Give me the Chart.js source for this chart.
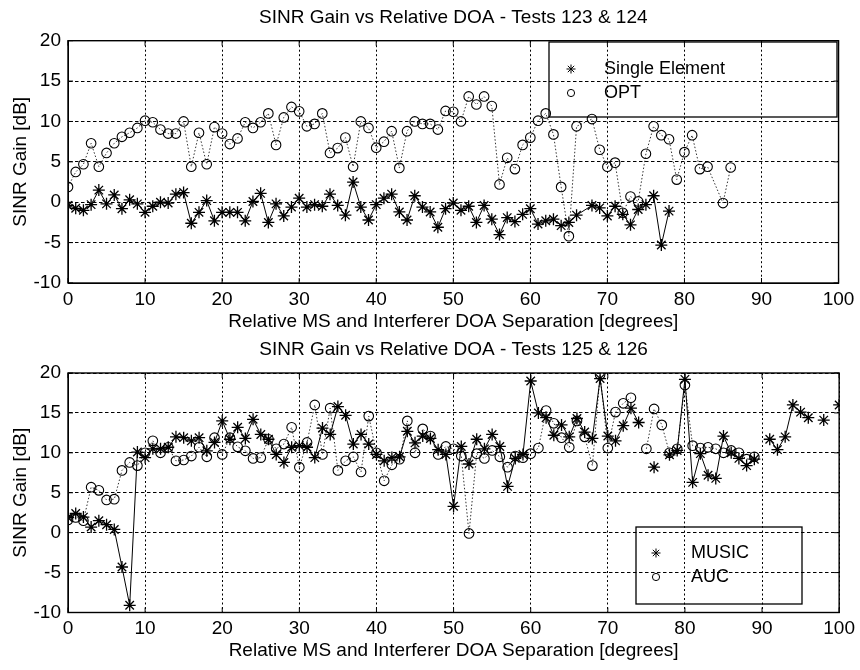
<!DOCTYPE html>
<html>
<head>
<meta charset="utf-8">
<script src="https://cdn.jsdelivr.net/npm/chart.js@4.4.0/dist/chart.umd.min.js"></script>
<style>
    html, body { margin: 0; padding: 0; background: #fff; }
    #wrap { position: relative; width: 860px; height: 670px; }
    .box { position: absolute; left: 0; width: 860px; height: 335px; }
</style>
</head>
<body>
<div id="wrap">
    <div class="box" style="top:0"><canvas id="chartTop"></canvas></div>
    <div class="box" style="top:335px"><canvas id="chartBottom"></canvas></div>
</div>
<script>
// Ejes
const xTicks = [0, 10, 20, 30, 40, 50, 60, 70, 80, 90, 100];
const yTicks = [-10, -5, 0, 5, 10, 15, 20];

// Tests 123 & 124 — index = separation in degrees, null = no sample
const singleElement = [
    -0.4, -0.75, -1.0, -0.3, 1.5, -0.2, 0.9, -0.8, 0.3, -0.2,
    -1.25, -0.5, 0.0, -0.1, 1.0, 1.2, -2.6, -1.25, 0.2, -2.3,
    -1.25, -1.25, -1.25, -2.3, 0.1, 1.1, -2.5, -0.2, -1.7, -0.6,
    0.5, -0.6, -0.3, -0.5, 1.0, -0.4, -1.6, 2.5, -0.6, -2.2,
    -0.3, 0.5, 1.0, -1.2, -2.2, 0.8, -0.6, -1.2, -3.1, -0.8,
    -0.1, -1.0, -0.5, -2.5, -0.4, -2.1, -4.0, -1.9, -2.4, -1.5,
    -0.8, -2.7, -2.3, -2.1, -2.9, -2.5, -1.6, null, -0.4, -0.7,
    -1.7, -0.5, -1.5, -2.8, -0.9, -0.3, 0.8, -5.3, -1.1
];
const opt = [
    1.9, 3.75, 4.7, 7.3, 4.4, 6.1, 7.3, 8.1, 8.6, 9.2,
    10.1, 9.9, 9.0, 8.5, 8.5, 10.0, 4.4, 8.6, 4.7, 9.3,
    8.5, 7.2, 7.9, 9.9, 9.2, 9.9, 11.0, 7.1, 10.5, 11.8,
    11.25, 9.4, 9.7, 11.0, 6.1, 6.7, 8.0, 4.4, 10.0, 9.2,
    6.75, 7.5, 8.8, 4.25, 8.8, 10.0, 9.7, 9.7, 9.0, 11.3,
    11.2, 10.0, 13.1, 12.1, 13.1, 11.9, 2.2, 5.5, 4.1, 7.1,
    8.0, 10.1, 11.0, 8.4, 1.9, -4.2, 9.4, null, 10.3, 6.5,
    4.4, 4.9, -1.3, 0.7, 0.1, 6.0, 9.4, 8.3, 7.8, 2.8,
    6.2, 8.3, 4.1, 4.4, null, -0.1, 4.3
];

// Tests 125 & 126
const music = [
    1.9, 2.4, 1.95, 0.7, 1.5, 1.0, 0.4, -4.3, -9.1, 10.1,
    9.4, 10.5, 10.5, 10.7, 12.0, 11.9, 11.5, 11.9, 10.25, 11.3,
    14.0, 11.7, 13.2, 11.8, 14.2, 12.3, 11.7, 9.8, 8.8, 10.7,
    10.9, 10.7, 9.4, 13.1, 12.3, 15.8, 14.7, 11.1, 12.3, 11.1,
    9.8, 9.0, 9.4, 9.5, 12.7, 11.25, 12.1, 11.8, 10.4, 9.8,
    3.3, 10.8, 8.6, 11.7, 10.5, 12.3, 10.8, 5.8, 9.3, 9.8,
    19.0, 15.0, 14.4, 12.2, 13.5, 12.0, 14.3, 12.6, 11.8, 19.3,
    12.1, 11.5, 13.4, 15.6, 13.8, null, 8.2, null, 9.75, 10.3,
    19.2, 6.3, 9.9, 7.2, 6.8, 12.1, 10.0, 9.3, 8.4, 9.2,
    null, 11.7, 10.4, 12.0, 16.0, 15.1, 14.4, null, 14.1, null,
    16.0
];
const auc = [
    1.6, 1.9, 1.5, 5.7, 5.3, 4.1, 4.2, 7.8, 8.8, 8.4,
    10.0, 11.5, 10.0, 10.7, 9.0, 9.1, 9.6, 10.7, 9.5, 11.9,
    9.8, 11.9, 10.75, 10.25, 9.3, 9.4, 11.7, 10.5, 11.1, 13.2,
    8.2, 11.3, 16.0, 9.8, 15.6, 7.8, 9.0, 9.5, 7.6, 14.6,
    10.0, 6.5, 8.5, 9.2, 14.0, 10.0, 13.0, 12.1, 9.8, 10.8,
    10.5, 9.6, -0.1, 9.9, 9.3, 10.3, 9.5, 8.2, 9.6, 9.4,
    9.9, 10.6, 15.3, 13.7, 11.9, 10.7, 14.0, 12.0, 8.4, 19.8,
    10.6, 15.1, 16.2, 16.9, null, 10.5, 15.5, 13.5, 10.0, 10.5,
    18.5, 10.9, 10.6, 10.7, 10.5, 10.0, 10.3, 10.0, 9.2, 9.5
];

const FONT = '"Liberation Sans", Arial, Helvetica, sans-serif';
Chart.defaults.font.family = FONT;
Chart.defaults.color = '#000';

const toPoints = arr => arr.map((v, i) => ({x: i, y: v}));

const starSet = (label, data, spanGaps) => ({
    label, data: toPoints(data), spanGaps,
    borderColor: '#000', borderWidth: 1,
    pointStyle: 'star', pointRadius: 6, pointBorderWidth: 1.3,
    pointBorderColor: '#000', pointBackgroundColor: 'rgba(0,0,0,0)'
});
const circleSet = (label, data, spanGaps) => ({
    label, data: toPoints(data), spanGaps,
    borderColor: '#333', borderWidth: 1, borderDash: [1.5, 2],
    pointStyle: 'circle', pointRadius: 4.8, pointBorderWidth: 1.1,
    pointBorderColor: '#000', pointBackgroundColor: 'rgba(0,0,0,0)'
});

// Caja del gráfico + marcas de tick hacia dentro (estilo MATLAB)
const frame = {
    id: 'frame',
    afterDraw(chart) {
        const {ctx, chartArea: a, scales: {x, y}} = chart;
        ctx.save();
        ctx.strokeStyle = '#000';
        ctx.lineWidth = 1.4;
        ctx.strokeRect(a.left, a.top, a.right - a.left, a.bottom - a.top);
        ctx.lineWidth = 1;
        ctx.beginPath();
        xTicks.forEach(v => {
            const px = x.getPixelForValue(v);
            ctx.moveTo(px, a.bottom); ctx.lineTo(px, a.bottom - 5);
            ctx.moveTo(px, a.top); ctx.lineTo(px, a.top + 5);
        });
        yTicks.forEach(v => {
            const py = y.getPixelForValue(v);
            ctx.moveTo(a.left, py); ctx.lineTo(a.left + 5, py);
            ctx.moveTo(a.right, py); ctx.lineTo(a.right - 5, py);
        });
        ctx.stroke();
        ctx.restore();
    }
};

// Leyenda con recuadro dentro del área
const boxLegend = {
    id: 'boxLegend',
    afterDatasetsDraw(chart, args, o) {
        const ctx = chart.ctx;
        ctx.save();
        ctx.strokeStyle = '#000';
        ctx.lineWidth = 1.3;
        ctx.strokeRect(o.x, o.y, o.w, o.h);
        chart.data.datasets.forEach((ds, i) => {
            const cy = o.y + o.rows[i];
            ctx.strokeStyle = '#000';
            ctx.fillStyle = 'rgba(0,0,0,0)';
            ctx.lineWidth = 1;
            Chart.helpers.drawPoint(ctx, {pointStyle: ds.pointStyle, radius: ds.pointRadius * 0.75, borderWidth: 1}, o.x + o.markerX, cy);
            ctx.fillStyle = '#000';
            ctx.font = '18px ' + FONT;
            ctx.textBaseline = 'middle';
            ctx.textAlign = 'left';
            ctx.fillText(ds.label, o.x + o.textX, cy);
        });
        ctx.restore();
    }
};

function makeChart(id, cfg) {
    return new Chart(document.getElementById(id), {
        type: 'line',
        data: {datasets: cfg.datasets},
        options: {
            responsive: true,
            maintainAspectRatio: false,
            animation: false,
            devicePixelRatio: 1,
            layout: {padding: {left: 0, right: 20, top: 0, bottom: 0}},
            plugins: {
                legend: {display: false},
                tooltip: {enabled: false},
                title: {
                    display: true, fullSize: false, text: cfg.title, color: '#000',
                    font: {size: 19, weight: 'normal'}, padding: cfg.titlePad
                },
                boxLegend: cfg.legend
            },
            scales: {
                x: {
                    type: 'linear', min: 0, max: 100,
                    afterBuildTicks: s => { s.ticks = xTicks.map(v => ({value: v})); },
                    afterFit: s => { s.height = cfg.xAxisH; },
                    grid: {color: '#000', lineWidth: 1, drawTicks: false},
                    border: {display: true, color: '#000', width: 1, dash: [2, 2.5]},
                    ticks: {color: '#000', font: {size: 19}, padding: cfg.xTickPad, maxRotation: 0},
                    title: {
                        display: true, text: 'Relative MS and Interferer DOA Separation [degrees]',
                        color: '#000', font: {size: 19}, padding: {top: 0, bottom: cfg.xTitlePad}
                    }
                },
                y: {
                    min: -10, max: 20,
                    afterBuildTicks: s => { s.ticks = yTicks.map(v => ({value: v})); },
                    afterFit: s => { s.width = 68; },
                    grid: {color: '#000', lineWidth: 1, drawTicks: false},
                    border: {display: true, color: '#000', width: 1, dash: [3.5, 2.5]},
                    ticks: {color: '#000', font: {size: 19}, padding: 7},
                    title: {
                        display: true, text: 'SINR Gain [dB]', color: '#000',
                        font: {size: 19}, padding: {top: 9.6, bottom: 0}
                    }
                }
            }
        },
        plugins: [boxLegend, frame]
    });
}

makeChart('chartTop', {
    title: 'SINR Gain vs Relative DOA - Tests 123 & 124',
    titlePad: {top: 6.6, bottom: 11.3},
    xAxisH: 52, xTickPad: 5.6, xTitlePad: 1.6,
    datasets: [starSet('Single Element', singleElement, true), circleSet('OPT', opt, true)],
    legend: {x: 549, y: 42, w: 288, h: 75, rows: [27, 51], markerX: 22, textX: 55}
});

makeChart('chartBottom', {
    title: 'SINR Gain vs Relative DOA - Tests 125 & 126',
    titlePad: {top: 3.6, bottom: 11.6},
    xAxisH: 57.5, xTickPad: 5, xTitlePad: 7.6,
    datasets: [starSet('MUSIC', music, false), circleSet('AUC', auc, false)],
    legend: {x: 636, y: 192, w: 166, h: 77, rows: [26, 50], markerX: 20, textX: 55}
});
</script>
</body>
</html>
